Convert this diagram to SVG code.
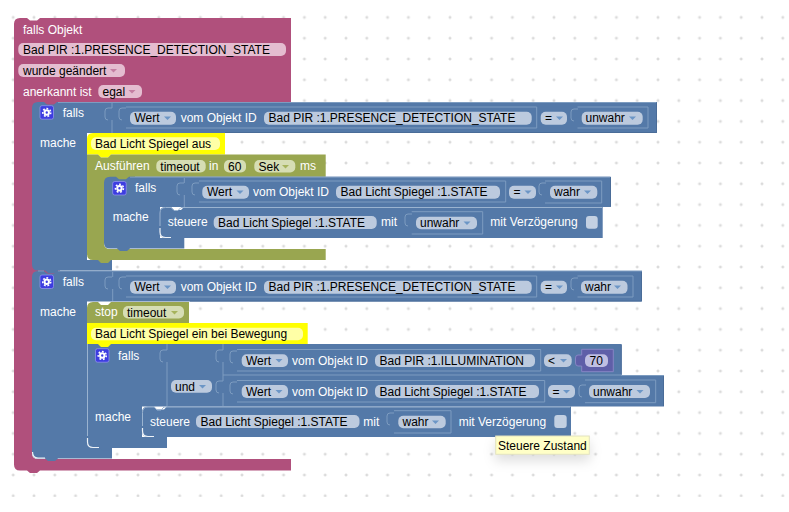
<svg xmlns="http://www.w3.org/2000/svg" width="789" height="512" viewBox="0 0 789 512">
<style>
text{font-family:"Liberation Sans",Arial,sans-serif;font-size:12px;fill:#000}
.w{fill:#fff}
.pink{fill:#b0507c}
.blue{fill:#5479a8}
.olive{fill:#99a650}
.yellow{fill:#ffff00}
.pp{fill:#e4bdd0}
.bp{fill:#bccade}
.op{fill:#d6ddb4}
.yp{fill:#ffffa6}
.vp{fill:#bfbfe2}
.ck{fill:#c3d0e2}
.edge{fill:none;stroke:#7d9cc0;stroke-width:1}
.dk{fill:none;stroke:#4a6c98;stroke-width:1}
.hl{fill:none;stroke:#eef3f8;stroke-width:1.200}
.hl2{fill:none;stroke:#9ab3d0;stroke-width:1}
.pa{fill:#c47fa2}
.ba{fill:#6c96c6}
.oa{fill:#a6b35c}
.ic{fill:#3d3de0;stroke:#9a9af0;stroke-width:.7}
.g1{fill:none;stroke:#fff;stroke-width:2}
.g2{fill:none;stroke:#fff;stroke-width:1.600;stroke-dasharray:1.800 1.800}
</style>
<defs>
<pattern id="grid" x="13.200" y="17.400" width="20.800" height="20.800" patternUnits="userSpaceOnUse">
<path d="M-1.500 0H1.500M0 -1.500V1.500M19.300 0H22.300M20.800 -1.500V1.500M-1.500 20.800H1.500M0 19.300V22.300M19.300 20.800H22.300M20.800 19.300V22.300" stroke="#d0d0d0" stroke-width="1" fill="none"/>
</pattern>
<path id="arr" d="M0 0h7l-3.500 3.500z"/>
<path id="tab" d="M7 0H3Q0 0 0 3V9Q0 12 3 12" fill="none" stroke="#7d9cc0"/>
<g id="gear"><rect class="ic" x="0" y="0" width="13.500" height="13.500" rx="2"/><circle class="g1" cx="6.750" cy="6.750" r="2.200"/><circle class="g2" cx="6.750" cy="6.750" r="4"/></g>
<filter id="sh" x="-30%" y="-60%" width="160%" height="260%"><feDropShadow dx="0" dy="6" stdDeviation="6" flood-color="#000" flood-opacity=".13"/></filter>
</defs>
<rect width="789" height="512" fill="#fff"/>
<rect x="0" y="0" width="789" height="497" fill="url(#grid)"/>

<g id="event-block">
<path class="pink" d="M14 24Q14 18 20 18H27l3 2.500h7l3-2.500H291V102H60V110H32V453Q32 459 38 459H291V470.500H40l-3 2.500h-7l-3-2.500H20Q14 470.500 14 464.500Z"/>
<rect class="pink" x="30" y="260" width="30" height="20"/>
<text class="w" x="23" y="34">falls Objekt</text>
<rect class="pp" x="18.300" y="43" width="267.700" height="13" rx="5"/>
<text x="23" y="54">Bad PIR :1.PRESENCE_DETECTION_STATE</text>
<rect class="pp" x="18.300" y="64" width="106.700" height="13" rx="5"/>
<text x="23" y="75">wurde geändert</text><use href="#arr" class="pa" x="110" y="69"/>
<text class="w" x="23" y="96">anerkannt ist</text>
<rect class="pp" x="98.300" y="85" width="43.700" height="13" rx="5"/>
<text x="102.500" y="96">egal</text><use href="#arr" class="pa" x="128.500" y="90"/>
</g>

<g id="if-block-1">
<path class="blue" d="M32 108Q32 102 38 102H44l3 2.500h7l3-2.500H657V133H87V260H112V270.500H58l-3 2.500h-7l-3-2.500H38Q32 270.500 32 264.500Z"/>
<path class="edge" d="M58 102.500H656"/>
<path class="dk" d="M656.500 103V132.500H225"/>
<path class="edge" d="M112 103V108M112 120V133"/>
<use href="#tab" x="105" y="108"/><use href="#tab" x="119" y="108"/>
<path class="edge" d="M126 107H536.700V128H126M577.500 107H648V128H577.500"/>
<use href="#tab" x="571" y="109"/>
<use href="#gear" x="40" y="105.700"/>
<text class="w" x="62.700" y="117">falls</text>
<text class="w" x="40" y="147">mache</text>
<rect class="bp" x="130" y="111.700" width="46" height="13" rx="5"/>
<text x="134.500" y="122">Wert</text><use href="#arr" class="ba" x="164" y="116.500"/>
<text class="w" x="180.700" y="122">vom Objekt ID</text>
<rect class="bp" x="264" y="111.700" width="267.700" height="13" rx="5"/>
<text x="268.500" y="122">Bad PIR :1.PRESENCE_DETECTION_STATE</text>
<rect class="bp" x="540.700" y="111.700" width="26.300" height="13" rx="5"/>
<text x="545" y="122">=</text><use href="#arr" class="ba" x="556" y="116.500"/>
<rect class="bp" x="581.700" y="111.700" width="61" height="13" rx="5"/>
<text x="585.500" y="122">unwahr</text><use href="#arr" class="ba" x="629" y="116.500"/>
</g>

<g id="comment-1">
<path class="yellow" d="M87 139Q87 133 93 133H225V154.500H111l-3 3h-7l-3-3H87Z"/>
<rect class="yp" x="91" y="137.300" width="129" height="12.700" rx="5"/>
<text x="95" y="148">Bad Licht Spiegel aus</text>
</g>

<g id="timeout-block">
<path class="olive" d="M87 154.500H98l3 3h7l3-3H325.700V176.700H135V184H104V243Q104 249 110 249H325.700V260H111l-3 3h-7l-3-3H93Q87 260 87 254Z"/>
<text class="w" x="95" y="170">Ausführen</text>
<rect class="op" x="156.300" y="160" width="49.400" height="12.500" rx="5"/>
<text x="160.300" y="170.500">timeout</text>
<text class="w" x="209" y="170">in</text>
<rect class="op" x="224" y="160" width="22" height="12.500" rx="5"/>
<text x="228" y="170.500">60</text>
<rect class="op" x="254.300" y="160" width="41" height="12.500" rx="5"/>
<text x="258.500" y="170.500">Sek</text><use href="#arr" class="oa" x="282" y="165"/>
<text class="w" x="300" y="170">ms</text>
</g>

<g id="if-block-2">
<path class="blue" d="M104 182.700Q104 176.700 110 176.700H116l3 2.500h7l3-2.500H611V207H160V238H184.300V248.500H130l-3 2.500h-7l-3-2.500H110Q104 248.500 104 243Z"/>
<path class="edge" d="M130 177.200H610"/>
<path class="dk" d="M610.500 177.500V206"/>
<path class="edge" d="M184.300 178V183M184.300 195V207"/>
<use href="#tab" x="177" y="183"/><use href="#tab" x="192" y="183"/>
<path class="edge" d="M199 181H505.700V202H199M545 181H601.700V203H545"/>
<use href="#tab" x="539" y="183"/>
<use href="#gear" x="112.700" y="181.500"/>
<text class="w" x="135" y="192">falls</text>
<text class="w" x="112.700" y="221">mache</text>
<rect class="bp" x="202.300" y="185.700" width="46.700" height="13" rx="5"/>
<text x="207" y="196">Wert</text><use href="#arr" class="ba" x="236.500" y="190.500"/>
<text class="w" x="253" y="196">vom Objekt ID</text>
<rect class="bp" x="336" y="185.700" width="164" height="13" rx="5"/>
<text x="340.500" y="196">Bad Licht Spiegel :1.STATE</text>
<rect class="bp" x="509" y="185.700" width="27" height="13" rx="5"/>
<text x="513.500" y="196">=</text><use href="#arr" class="ba" x="524.500" y="190.500"/>
<rect class="bp" x="550" y="185.700" width="47.300" height="13" rx="5"/>
<text x="554" y="196">wahr</text><use href="#arr" class="ba" x="584" y="190.500"/>
</g>

<g id="set-state-1">
<path class="blue" d="M159.500 213Q159.500 207 165.500 207H171l3 3h7l3-3H602.700V238H184l-3 3h-7l-3-3H165.500Q159.500 238 159.500 232Z"/>
<path class="hl2" d="M602 207.500H184h-3l-3 3h-4l-3-3H165.500Q160 207.500 160 213V226"/>
<path class="hl" d="M160 228V232Q160 237.500 165.500 237.500H171"/>
<text class="w" x="167.700" y="226">steuere</text>
<rect class="bp" x="213.700" y="216" width="163" height="13" rx="5"/>
<text x="218" y="226.500">Bad Licht Spiegel :1.STATE</text>
<text class="w" x="381" y="226">mit</text>
<use href="#tab" x="405" y="214"/>
<path class="edge" d="M411.700 211.700H482.700V234H411.700"/>
<rect class="bp" x="416" y="216.700" width="61" height="12.500" rx="5"/>
<text x="420" y="227">unwahr</text><use href="#arr" class="ba" x="463.500" y="221.500"/>
<text class="w" x="490.300" y="226">mit Verzögerung</text>
<rect class="ck" x="586" y="216" width="11.700" height="12.700" rx="3"/>
</g>

<g id="if-block-3">
<path class="blue" d="M32 277Q32 271 38 271H44l3 2.500h7l3-2.500H642V301.500H87V437H112V458.500H58l-3 2.500h-7l-3-2.500H38Q32 458.500 32 452.500Z"/>
<path class="edge" d="M38 271H44M58 271H642"/>
<path class="dk" d="M641.500 272V301H190"/>
<path class="hl" d="M32.500 452Q32.500 458 38 458H45"/>
<path class="edge" d="M112.700 272V277M112.700 289V301"/>
<use href="#tab" x="105" y="277"/><use href="#tab" x="119" y="277"/>
<path class="edge" d="M126 276H536.700V297H126M577.500 276H633V297H577.500"/>
<use href="#tab" x="571" y="278"/>
<use href="#gear" x="40" y="275"/>
<text class="w" x="62.700" y="286">falls</text>
<text class="w" x="40" y="316">mache</text>
<rect class="bp" x="130" y="280.700" width="46" height="13" rx="5"/>
<text x="134.500" y="291">Wert</text><use href="#arr" class="ba" x="164" y="285.500"/>
<text class="w" x="180.700" y="291">vom Objekt ID</text>
<rect class="bp" x="264" y="280.700" width="267.700" height="13" rx="5"/>
<text x="268.500" y="291">Bad PIR :1.PRESENCE_DETECTION_STATE</text>
<rect class="bp" x="540.700" y="280.700" width="26.300" height="13" rx="5"/>
<text x="545" y="291">=</text><use href="#arr" class="ba" x="556" y="285.500"/>
<rect class="bp" x="581" y="280.700" width="46.500" height="13" rx="5"/>
<text x="585" y="291">wahr</text><use href="#arr" class="ba" x="614" y="285.500"/>
</g>

<g id="stop-block">
<path class="olive" d="M87 308Q87 302 93 302H98l3 3h7l3-3H189V323H111l-3 3h-7l-3-3H87Z"/>
<text class="w" x="95" y="316">stop</text>
<rect class="op" x="123" y="306" width="61" height="12.500" rx="5"/>
<text x="127" y="316.500">timeout</text><use href="#arr" class="oa" x="171" y="311"/>
</g>

<g id="if-block-4">
<path class="blue" d="M87 344H621.700V375H664V406.500H142V437H167V448H112l-3 2.500h-7l-3-2.500H93Q87 448 87 442Z"/>
<path class="hl2" d="M87.500 344V436"/>
<path class="hl" d="M87.500 438V442Q87.500 447.500 93 447.500H99"/>
<path class="dk" d="M621.200 345V374.500M663.500 376V406"/>
<path class="edge" d="M621 375.500H664M167 344V350M167 362V406M223 344V350M223 362V381M223 393V406M223 375H621"/>
<use href="#tab" x="160" y="350"/><use href="#tab" x="216" y="350"/><use href="#tab" x="216" y="381"/>
<use href="#tab" x="230" y="351"/><use href="#tab" x="230" y="382"/>
<use href="#gear" x="95.500" y="348.700"/>
<text class="w" x="118" y="360">falls</text>
<text class="w" x="95" y="421">mache</text>
<rect class="bp" x="171" y="380" width="41" height="12.700" rx="5"/>
<text x="175" y="391">und</text><use href="#arr" class="ba" x="199" y="385"/>
<path class="edge" d="M237 349.500H540.700V371H237M237 380.500H544.700V402H237"/>
<rect class="bp" x="241.700" y="354.300" width="46.300" height="12.700" rx="5"/>
<text x="246" y="365">Wert</text><use href="#arr" class="ba" x="275.500" y="359"/>
<text class="w" x="292" y="365">vom Objekt ID</text>
<rect class="bp" x="375" y="354.300" width="160" height="12.700" rx="5"/>
<text x="379.500" y="365">Bad PIR :1.ILLUMINATION</text>
<rect class="bp" x="544" y="354.300" width="27.700" height="12.700" rx="5"/>
<text x="548" y="365">&lt;</text><use href="#arr" class="ba" x="560" y="359"/>
<path fill="#5f5fa8" stroke="#8585c4" d="M581.700 349.300H613.300V371.700H581.700V366H578Q575.500 366 575.500 363V358Q575.500 355 578 355H581.700Z"/>
<rect class="vp" x="585" y="354.300" width="23" height="12.700" rx="5"/>
<text x="589.500" y="365">70</text>
<rect class="bp" x="241.700" y="385" width="46.300" height="13" rx="5"/>
<text x="246" y="396">Wert</text><use href="#arr" class="ba" x="275.500" y="390"/>
<text class="w" x="292" y="396">vom Objekt ID</text>
<rect class="bp" x="375" y="385" width="164" height="13" rx="5"/>
<text x="379.500" y="396">Bad Licht Spiegel :1.STATE</text>
<rect class="bp" x="548" y="385" width="27" height="13" rx="5"/>
<text x="552.500" y="396">=</text><use href="#arr" class="ba" x="563" y="390"/>
<use href="#tab" x="579" y="385"/>
<path class="edge" d="M585 380H655.700V402.700H585"/>
<rect class="bp" x="589" y="385" width="61" height="13" rx="5"/>
<text x="593" y="396">unwahr</text><use href="#arr" class="ba" x="636.500" y="390"/>
</g>

<g id="comment-2">
<path class="yellow" d="M87 323H307.700V344H111l-3 3h-7l-3-3H87Z"/>
<rect class="yp" x="91" y="327.700" width="212" height="12.500" rx="5"/>
<text x="95" y="338">Bad Licht Spiegel ein bei Bewegung</text>
</g>

<g id="set-state-2">
<path class="blue" d="M142 412.500Q142 406.500 148 406.500H154l3 3h7l3-3H571V437H167l-3 3h-7l-3-3H148Q142 437 142 431Z"/>
<path class="hl2" d="M570 407H167h-3l-3 3h-4l-3-3H148Q142.500 407 142.500 412.500V426"/>
<path class="hl" d="M142.500 428V431Q142.500 436.500 148 436.500H154"/>
<text class="w" x="150" y="426">steuere</text>
<rect class="bp" x="196" y="415" width="163.500" height="13" rx="5"/>
<text x="200.500" y="426">Bad Licht Spiegel :1.STATE</text>
<text class="w" x="363.300" y="426">mit</text>
<use href="#tab" x="387" y="413"/>
<path class="edge" d="M394 410.700H451V433H394"/>
<rect class="bp" x="398.300" y="415.700" width="47.400" height="12.500" rx="5"/>
<text x="402.500" y="426">wahr</text><use href="#arr" class="ba" x="432" y="420.500"/>
<text class="w" x="458.700" y="426">mit Verzögerung</text>
<rect class="ck" x="554.300" y="415" width="12.400" height="13" rx="3"/>
</g>

<g id="tooltip">
<rect x="495.700" y="436" width="93.600" height="18.300" fill="#ffffc7" stroke="#e2e2c0" filter="url(#sh)"/>
<text x="498" y="449.500">Steuere Zustand</text>
</g>
</svg>
